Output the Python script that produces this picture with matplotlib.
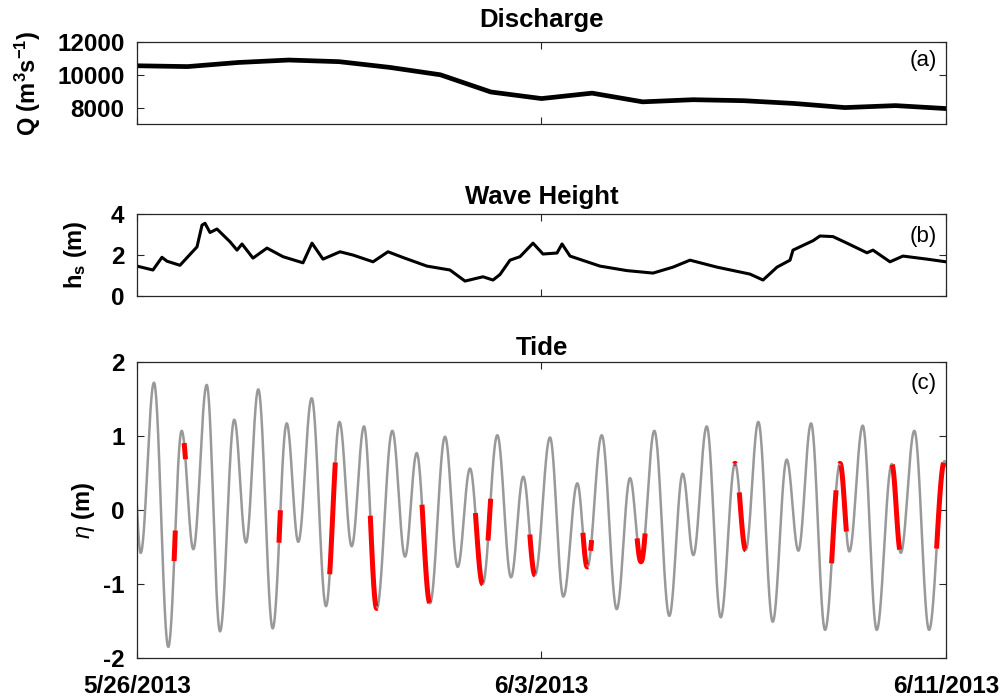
import numpy as np
import matplotlib
matplotlib.use("Agg")
import matplotlib.pyplot as plt

plt.rcParams['font.family'] = ['Liberation Sans', 'DejaVu Sans']
plt.rcParams['mathtext.fontset'] = 'custom'
plt.rcParams['mathtext.rm'] = 'Liberation Sans:bold'
plt.rcParams['mathtext.it'] = 'Liberation Sans:italic'
plt.rcParams['mathtext.bf'] = 'Liberation Sans:bold'
plt.rcParams['axes.unicode_minus'] = False

# x axis: days since 5/26/2013
date_ticks = [0, 8, 16]
date_labels = ["5/26/2013", "6/3/2013", "6/11/2013"]

# (a) river discharge, daily
q_days = np.arange(17)
q_vals = [10550, 10500, 10750, 10900, 10800, 10450, 10000, 8950, 8550,
          8880, 8350, 8480, 8420, 8250, 8000, 8120, 7940]

# (b) significant wave height
hs_days = [0.000, 0.316, 0.494, 0.593, 0.850, 1.187, 1.286, 1.345, 1.444, 1.582,
           1.839, 1.978, 2.077, 2.294, 2.571, 2.888, 3.283, 3.461, 3.679, 4.015,
           4.272, 4.668, 4.964, 5.261, 5.735, 6.190, 6.487, 6.843, 7.041, 7.179,
           7.377, 7.575, 7.832, 8.030, 8.307, 8.406, 8.564, 9.157, 9.691, 10.205,
           10.601, 10.937, 11.471, 12.124, 12.381, 12.658, 12.915, 12.974, 13.370, 13.508,
           13.765, 14.042, 14.437, 14.556, 14.892, 15.149, 15.624, 16.000]
hs_vals = [1.46, 1.27, 1.89, 1.70, 1.50, 2.40, 3.46, 3.55, 3.10, 3.27,
           2.65, 2.24, 2.54, 1.85, 2.34, 1.92, 1.62, 2.58, 1.80, 2.16,
           2.00, 1.67, 2.16, 1.88, 1.46, 1.27, 0.73, 0.94, 0.78, 1.05,
           1.75, 1.92, 2.58, 2.05, 2.10, 2.54, 1.95, 1.46, 1.24, 1.12,
           1.41, 1.75, 1.41, 1.07, 0.78, 1.41, 1.75, 2.24, 2.70, 2.93,
           2.90, 2.58, 2.11, 2.24, 1.67, 1.95, 1.80, 1.67]

# (c) tide: high / low water times (days) and levels (m)
tide_days = [-0.109, 0.073, 0.336, 0.619, 0.884, 1.114, 1.379, 1.642, 1.924, 2.156,
             2.399, 2.684, 2.961, 3.190, 3.455, 3.738, 4.005, 4.246, 4.490, 4.741,
             5.050, 5.301, 5.532, 5.795, 6.092, 6.343, 6.586, 6.837, 7.126, 7.397,
             7.640, 7.872, 8.168, 8.432, 8.709, 8.906, 9.191, 9.488, 9.751, 9.968,
             10.231, 10.528, 10.793, 11.003, 11.268, 11.545, 11.828, 12.039, 12.288, 12.573,
             12.850, 13.080, 13.331, 13.608, 13.904, 14.088, 14.353, 14.630, 14.927, 15.105,
             15.374, 15.665, 15.970, 16.180]
tide_vals = [1.20, -0.58, 1.72, -1.85, 1.07, -0.53, 1.69, -1.64, 1.22, -0.44,
             1.63, -1.60, 1.17, -0.43, 1.51, -1.30, 1.19, -0.49, 1.13, -1.33,
             1.07, -0.63, 0.77, -1.26, 0.99, -0.77, 0.56, -1.00, 1.01, -0.91,
             0.45, -0.88, 0.98, -1.17, 0.36, -0.77, 1.01, -1.34, 0.43, -0.70,
             1.07, -1.43, 0.49, -0.61, 1.13, -1.45, 0.63, -0.54, 1.19, -1.51,
             0.68, -0.55, 1.17, -1.62, 0.63, -0.56, 1.14, -1.62, 0.62, -0.58,
             1.07, -1.62, 0.66, -0.55]

# highlighted periods (start, end) in days
red_start = [0.734, 0.932, 2.808, 3.811, 4.614, 5.637, 6.693, 6.942, 7.769, 8.819,
             8.971, 9.891, 11.817, 11.911, 13.737, 13.894, 14.936, 15.814]
red_end = [0.758, 0.959, 2.836, 3.922, 4.747, 5.787, 6.837, 6.995, 7.872, 8.912,
           8.991, 10.049, 11.837, 12.039, 13.826, 14.030, 15.083, 15.951]


def tide_curve(t):
    # smooth curve through the high/low waters
    te = np.array(tide_days)
    he = np.array(tide_vals)
    i = np.clip(np.searchsorted(te, t) - 1, 0, len(te) - 2)
    s = (t - te[i]) / (te[i + 1] - te[i])
    return he[i] + (he[i + 1] - he[i]) * (1 - np.cos(np.pi * s)) / 2


fig = plt.figure(figsize=(10.08, 7.0), dpi=100)
ax1 = fig.add_axes([0.1359, 0.8229, 0.8026, 0.1171])
ax2 = fig.add_axes([0.1359, 0.5771, 0.8026, 0.1171])
ax3 = fig.add_axes([0.1359, 0.0600, 0.8026, 0.4229])

ax1.plot(q_days, q_vals, color='black', lw=3.4)
ax1.set_ylim(7000, 12000)
ax1.set_yticks([8000, 10000, 12000])
ax1.set_ylabel(r"Q (m$^\mathrm{3}$s$^\mathrm{-1}$)", fontsize=17, fontweight='bold', labelpad=10)
ax1.set_title("Discharge", fontsize=18.5, fontweight='bold', pad=11)
ax1.text(0.989, 0.77, "(a)", transform=ax1.transAxes, ha='right', va='center', fontsize=16)

ax2.plot(hs_days, hs_vals, color='black', lw=2.2)
ax2.set_ylim(0, 4)
ax2.set_yticks([0, 2, 4])
ax2.set_ylabel(r"h$_\mathrm{s}$ (m)", fontsize=17, fontweight='bold', labelpad=16)
ax2.set_title("Wave Height", fontsize=18.5, fontweight='bold', pad=7)
ax2.text(0.989, 0.73, "(b)", transform=ax2.transAxes, ha='right', va='center', fontsize=16)

tt = np.linspace(-0.2, 16.2, 6000)
ax3.plot(tt, tide_curve(tt), color='#999999', lw=1.8)
for a, b in zip(red_start, red_end):
    ts = np.linspace(a, b, 30)
    ax3.plot(ts, tide_curve(ts), color='red', lw=3.6, solid_capstyle='butt')
ax3.set_ylim(-2, 2)
ax3.set_yticks([-2, -1, 0, 1, 2])
ax3.set_ylabel(r"$\eta$ (m)", fontsize=17, fontweight='bold', labelpad=4)
ax3.set_title("Tide", fontsize=18.5, fontweight='bold', pad=5)
ax3.text(0.989, 0.926, "(c)", transform=ax3.transAxes, ha='right', va='center', fontsize=16)

for ax in (ax1, ax2, ax3):
    ax.set_xlim(0, 16)
    ax.set_xticks(date_ticks)
    ax.tick_params(direction='in', length=5, width=0.8, top=True, right=True,
                   labelsize=17.5, colors='#262626', labelcolor='black')
    ax.tick_params(axis='y', pad=9)
    ax.tick_params(axis='x', pad=12)
    for lab in ax.get_yticklabels():
        lab.set_fontweight('bold')
    for sp in ax.spines.values():
        sp.set_color('#262626')
        sp.set_linewidth(0.9)

ax1.set_xticklabels([])
ax2.set_xticklabels([])
ax3.set_xticklabels(date_labels, fontweight='bold')

fig.savefig("out.png", dpi=100)
